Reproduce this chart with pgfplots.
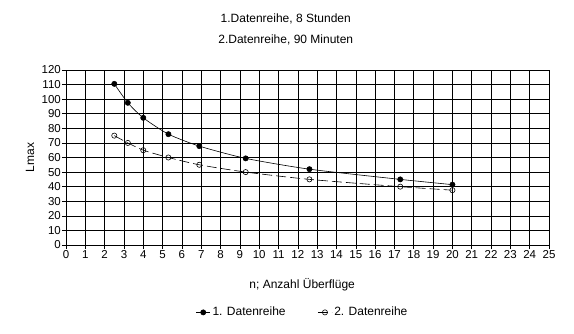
\documentclass[border=0pt]{standalone}
\usepackage{fontspec}
\setmainfont{Liberation Sans}
\usepackage{pgfplots}
\pgfplotsset{compat=1.18}
\usetikzlibrary{calc}
\begin{document}
\begin{tikzpicture}[x=1pt,y=1pt]
\begin{axis}[
  width=483pt, height=175pt, scale only axis,
  xmin=0, xmax=25, ymin=0, ymax=120,
  xtick={0,1,...,25}, ytick={0,10,...,120},
  grid=major, major grid style={black, line width=0.6pt},
  axis line style={black, line width=0.6pt},
  tick style={black, line width=0.6pt},
  tick align=outside, tick pos=left, major tick length=4pt,
  /pgf/number format/assume math mode=true,
  tick label style={font=\fontsize{11.5}{13}\selectfont},
  xticklabel style={inner sep=1pt},
  yticklabel style={inner sep=1pt},
  title={1.Datenreihe, 8 Stunden\\2.Datenreihe, 90 Minuten},
  title style={at={(axis description cs:0.455,1.195)}, anchor=center, align=center, font=\fontsize{12}{21}\selectfont},
  xlabel={n; Anzahl Überflüge},
  xlabel style={at={(axis description cs:0.489,-0.225)}, anchor=center, font=\fontsize{12}{14}\selectfont},
  ylabel={Lmax},
  ylabel style={at={(axis description cs:-0.0745,0.5)}, anchor=center, font=\fontsize{12}{14}\selectfont},
  legend columns=2,
  legend image code/.code={\draw[mark repeat=2,mark phase=2] plot coordinates {(0pt,0pt) (7pt,0pt) (14pt,0pt)};},
  legend style={at={(axis description cs:0.49,-0.385)}, anchor=center, draw=none, fill=none, font=\fontsize{12}{14}\selectfont,
    /tikz/every even column/.append style={column sep=30pt}},
]
\addplot[black, line width=0.6pt, smooth, tension=0.4, mark=*, mark size=2.6pt, mark options={solid, fill=black}]
coordinates {(2.5,110.5) (3.2,97.5) (4,87.2) (5.3,76) (6.9,67.8) (9.3,59.4) (12.6,52) (17.3,45) (20,41.4)};
\addlegendentry{1. Datenreihe}
\addplot[black, line width=0.6pt, smooth, tension=0.4, dash pattern=on 10pt off 4pt, mark=o, mark size=2.6pt, mark options={solid}]
coordinates {(2.5,75) (3.2,70) (4,65) (5.3,60) (6.9,55) (9.3,50) (12.6,45) (17.3,40) (20,37.6)};
\addlegendentry{2. Datenreihe}
\coordinate (bl) at (rel axis cs:0,0);
\coordinate (tr) at (rel axis cs:1,1);
\end{axis}
\pgfresetboundingbox
\path[use as bounding box] ($(bl)+(-66,-88)$) rectangle ($(tr)+(25,70)$);
\end{tikzpicture}
\end{document}
